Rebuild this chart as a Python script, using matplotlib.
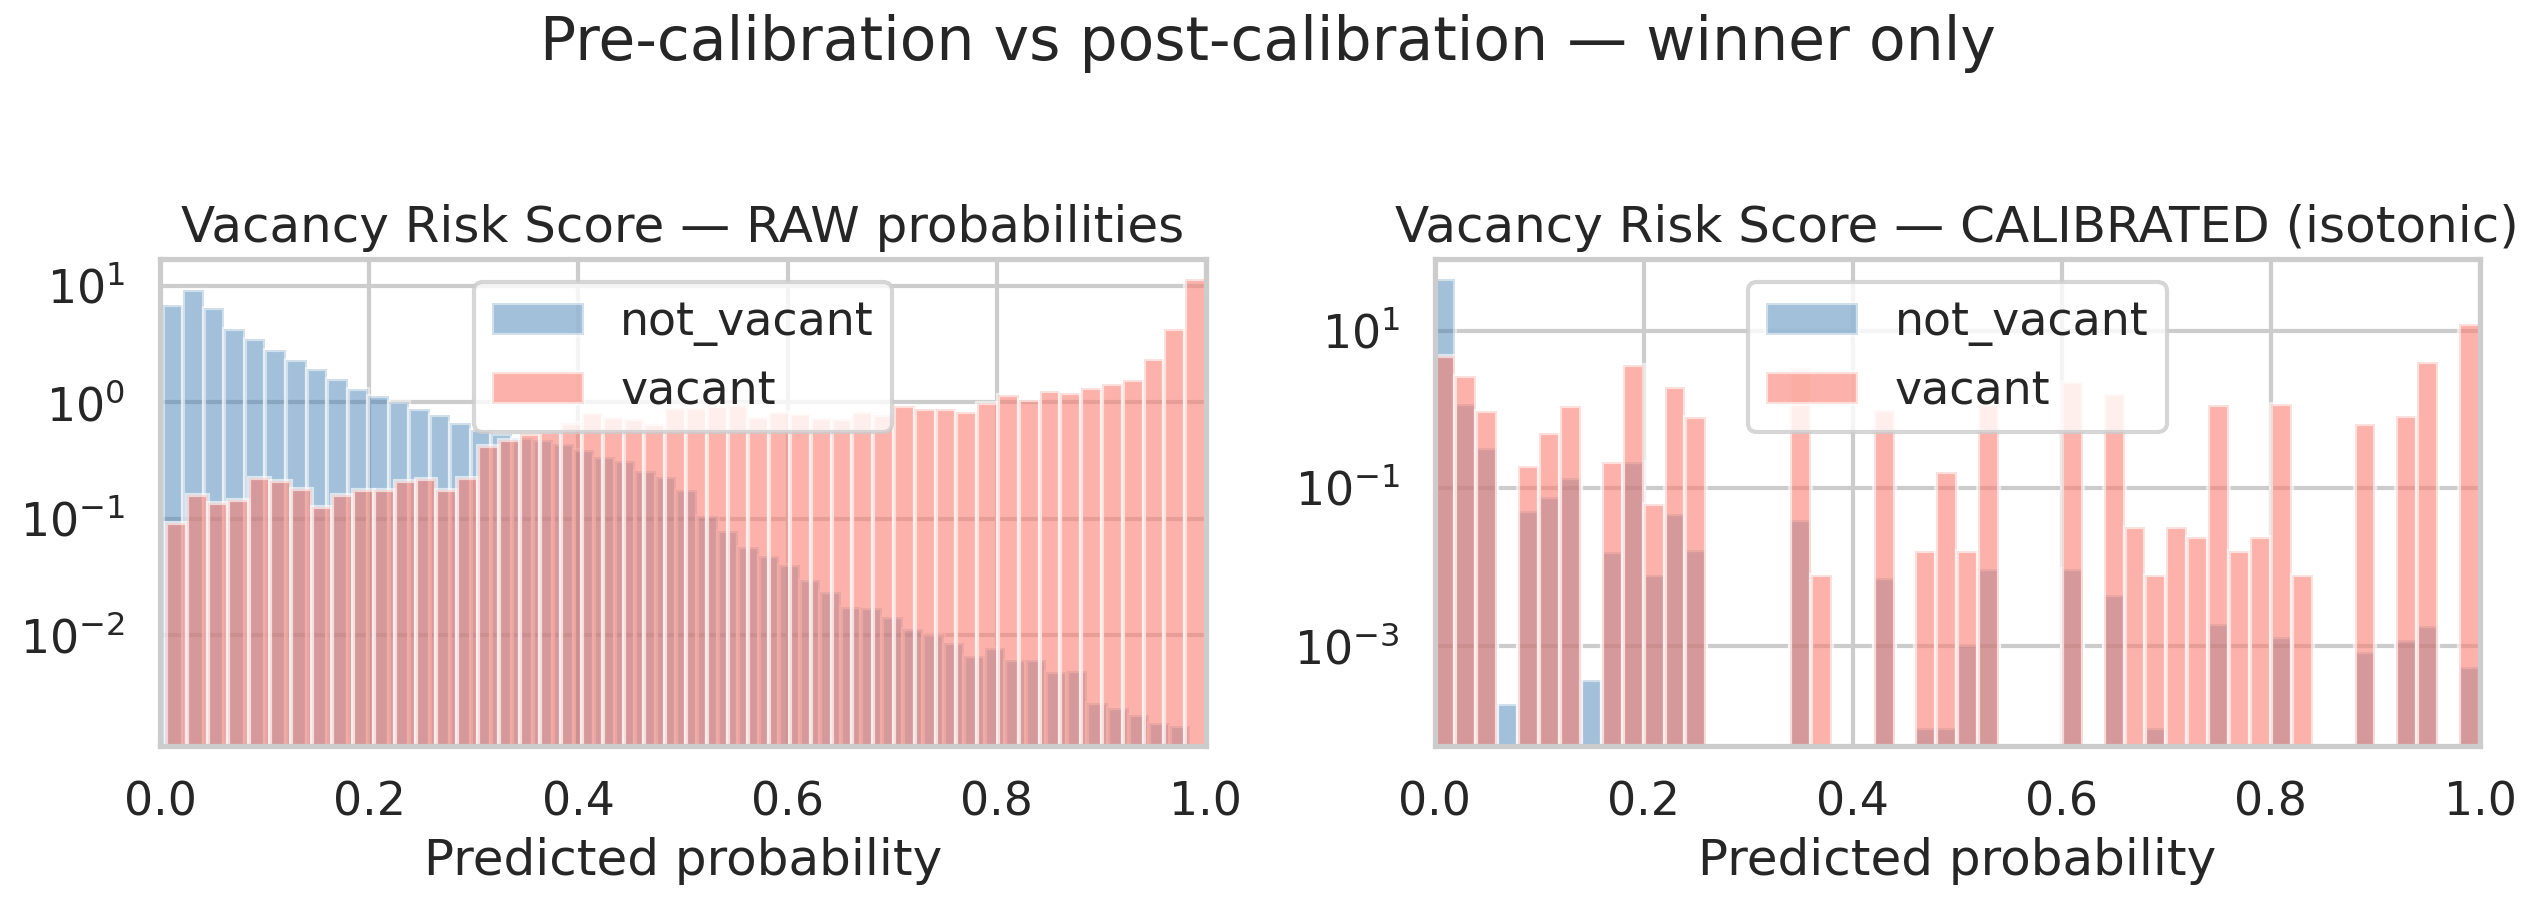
import numpy as np
import matplotlib
matplotlib.use("Agg")
import matplotlib.pyplot as plt
import seaborn as sns

# density per bin (50 bins)
nv_raw = [6.97, 9.29, 6.56, 4.30, 3.52, 2.82, 2.31, 1.93, 1.60, 1.31,
          1.13, 1.00, 0.875, 0.775, 0.67, 0.58, 0.53, 0.495, 0.472, 0.436,
          0.392, 0.338, 0.316, 0.259, 0.226, 0.178, 0.105, 0.0776, 0.0574, 0.0479,
          0.0402, 0.0298, 0.0232, 0.0172, 0.0170, 0.0141, 0.0111, 0.00987, 0.00851, 0.00652,
          0.0077, 0.0061, 0.0060, 0.00475, 0.00489, 0.0026, 0.00234, 0.00202, 0.00174, 0.00165]
v_raw = [0.0917, 0.159, 0.135, 0.144, 0.222, 0.212, 0.179, 0.126, 0.159, 0.175,
         0.175, 0.212, 0.220, 0.175, 0.222, 0.419, 0.479, 0.54, 0.56, 0.67,
         0.818, 0.755, 0.721, 0.652, 0.893, 0.893, 0.923, 0.954, 0.755, 0.835,
         0.791, 0.740, 0.721, 0.835, 0.781, 0.923, 0.875, 0.875, 0.824, 0.987,
         1.15, 1.055, 1.25, 1.21, 1.32, 1.43, 1.56, 2.36, 4.30, 11.5]
nv_cal = [45, 1.19, 0.322, 1.82e-4, 0.051, 0.078, 0.135, 3.7e-4, 0.0155, 0.214,
          0.0080, 0.0475, 0.0163, 0, 0, 0, 0, 0.039, 0, 0,
          0, 0.0072, 0, 9.1e-5, 9.1e-5, 0.00102, 0.0093, 0, 0, 0,
          0.00946, 0, 0.00442, 0, 9.1e-5, 0, 0, 0.00187, 0, 0,
          0.00128, 0, 0, 0, 8.2e-4, 0, 0.00118, 0.00176, 0, 5.4e-4]
v_cal = [4.76, 2.68, 0.947, 0, 0.19, 0.498, 1.11, 0, 0.216, 3.71,
         0.0628, 1.95, 0.80, 0, 0, 0, 0, 3.4, 0.00785, 0,
         0, 0.975, 0, 0.016, 0.159, 0.016, 1.17, 0, 0, 0,
         2.24, 0, 1.6, 0.032, 0.00785, 0.032, 0.0238, 1.13, 0.016, 0.0238,
         1.16, 0.00785, 0, 0, 0.656, 0, 0.84, 3.98, 0, 12.2]

# score range covered by each class (bins span min..max of the scores)
nv_raw_range = (0.0026, 0.985)
v_raw_range = (0.0057, 1.0)
cal_range = (0.0, 1.0)

sns.set_theme(style="whitegrid", context="talk")

fig = plt.figure(figsize=(2535 / 200, 902 / 200), dpi=200)
ax1 = fig.add_axes([0.0631, 0.1729, 0.4126, 0.54])
ax2 = fig.add_axes([0.5659, 0.1729, 0.4124, 0.54])


def draw(ax, nv, v, nv_rng, v_rng, title, ylim):
    ax.set_yscale("log")
    e_nv = np.linspace(nv_rng[0], nv_rng[1], len(nv) + 1)
    e_v = np.linspace(v_rng[0], v_rng[1], len(v) + 1)
    ax.hist((e_nv[:-1] + e_nv[1:]) / 2, bins=e_nv, weights=nv,
            color="steelblue", alpha=0.5, label="not_vacant")
    ax.hist((e_v[:-1] + e_v[1:]) / 2, bins=e_v, weights=v,
            color="salmon", alpha=0.6, label="vacant")
    ax.set_xlim(0, 1)
    ax.set_ylim(*ylim)
    ax.set_title(title)
    ax.set_xlabel("Predicted probability")
    ax.legend(loc="upper center")


draw(ax1, nv_raw, v_raw, nv_raw_range, v_raw_range,
     "Vacancy Risk Score — RAW probabilities", (1.1e-3, 17.2))
draw(ax2, nv_cal, v_cal, cal_range, cal_range,
     "Vacancy Risk Score — CALIBRATED (isotonic)", (5.3e-5, 82))

fig.suptitle("Pre-calibration vs post-calibration — winner only", y=0.985)

fig.savefig("out.png", dpi=200)
